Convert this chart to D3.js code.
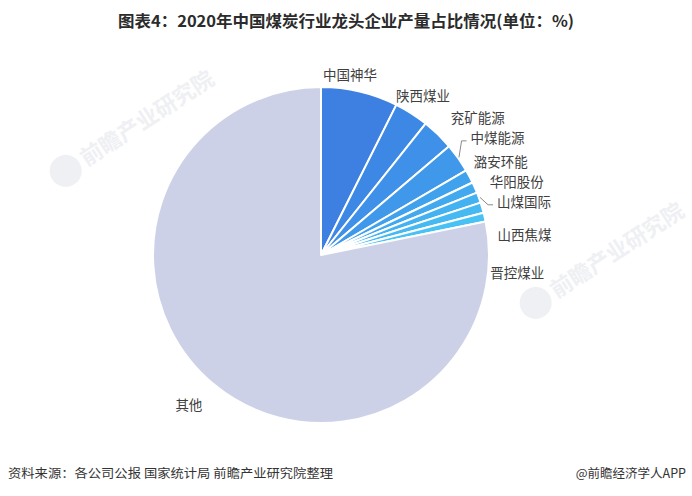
<!DOCTYPE html>
<html>
<head>
<meta charset="utf-8">
<script src="https://cdn.jsdelivr.net/npm/d3@7/dist/d3.min.js"></script>
<style>
  html, body { margin: 0; padding: 0; background: #ffffff; }
  svg { display: block; }
</style>
</head>
<body>
<svg id="chart" width="692" height="496"></svg>
<script>
// ---- data ----
const categories = ["中国神华", "陕西煤业", "兖矿能源", "中煤能源", "潞安环能", "华阳股份", "山煤国际", "山西焦煤", "晋控煤业", "其他"];
const shares = [7.4, 3.3, 3.1, 2.8, 1.3, 1.05, 1.0, 1.0, 0.85, 78.2];
const titleText = "图表4：2020年中国煤炭行业龙头企业产量占比情况(单位：%)";
const sourceText = "资料来源：各公司公报 国家统计局 前瞻产业研究院整理";
const creditText = "@前瞻经济学人APP";

// ---- layout / style ----
const W = 692, H = 496;
const cx = 321, cy = 255, R = 168;
const palette = ["#3d80e2", "#3e88e5", "#3f90e8", "#3f98ea", "#40a1ed", "#42a9ef", "#44b1f1", "#46b9f3", "#48c1f5", "#cdd1e7"];
// label nudges relative to anchor on a circle outside the pie
const labelNudge = [[-13, -3], [-23, -5], [3, -6.5], [1, -12], [-8, -8], [2, 0], [5, 9], [2, 32], [-8, 59], [-17, 9]];
const labelAnchor = ["middle", "start", "start", "start", "start", "start", "start", "start", "start", "middle"];
const leader = [false, false, false, true, false, false, true, false, false, false];

const svg = d3.select("#chart");
const font = "'Noto Sans CJK SC', 'Noto Sans', sans-serif";

// watermarks (very faint, behind the chart)
const wm = [[125, 130, -33], [595, 262, -33]];
const wmG = svg.append("g");
wm.forEach(([x, y, a]) => {
  const g = wmG.append("g").attr("transform", `translate(${x},${y}) rotate(${a})`);
  g.append("circle").attr("cx", -72).attr("cy", 2).attr("r", 16).attr("fill", "#eef0f3");
  g.append("text").attr("x", -52).attr("y", 10).attr("font-family", font).attr("font-weight", "bold")
    .attr("font-size", 22).attr("fill", "#eef0f3").text("前瞻产业研究院");
});

// title
svg.append("text")
  .attr("x", W / 2).attr("y", 27)
  .attr("text-anchor", "middle")
  .attr("font-family", font).attr("font-weight", "bold").attr("font-size", 16)
  .attr("fill", "#2b2b2b")
  .attr("textLength", 456).attr("lengthAdjust", "spacingAndGlyphs")
  .text(titleText);

// pie
const data = categories.map((c, i) => ({ name: c, value: shares[i], i }));
const pie = d3.pie().value(d => d.value).sort(null).startAngle(0).endAngle(2 * Math.PI);
const arcs = pie(data);
const arc = d3.arc().innerRadius(0).outerRadius(R);

const g = svg.append("g").attr("transform", `translate(${cx},${cy})`);
g.selectAll("path.slice").data(arcs).enter().append("path")
  .attr("class", "slice")
  .attr("d", arc)
  .attr("fill", d => palette[d.data.i])
  .attr("stroke", "#ffffff").attr("stroke-width", 2).attr("stroke-linejoin", "round");

// labels
const LR = R + 14;
arcs.forEach(d => {
  const i = d.data.i;
  const m = (d.startAngle + d.endAngle) / 2;
  const ax = LR * Math.sin(m) + labelNudge[i][0];
  const ay = -LR * Math.cos(m) + labelNudge[i][1];
  g.append("text")
    .attr("x", ax).attr("y", ay)
    .attr("dy", "0.35em")
    .attr("text-anchor", labelAnchor[i])
    .attr("font-family", font).attr("font-size", 13.5)
    .attr("fill", "#404040")
    .text(d.data.name);
  if (leader[i]) {
    const sx = (R + 1) * Math.sin(m), sy = -(R + 1) * Math.cos(m);
    const ex = ax - 4, ey = ay + 3;
    g.append("polyline")
      .attr("points", `${sx},${sy} ${ex - 5},${ey} ${ex},${ey}`)
      .attr("fill", "none").attr("stroke", "#8a8a8a").attr("stroke-width", 1);
  }
});

// footer
svg.append("text")
  .attr("x", 8).attr("y", 478)
  .attr("font-family", font).attr("font-size", 12.5)
  .attr("fill", "#333333")
  .attr("textLength", 325).attr("lengthAdjust", "spacingAndGlyphs")
  .text(sourceText);
svg.append("text")
  .attr("x", 686).attr("y", 478)
  .attr("text-anchor", "end")
  .attr("font-family", font).attr("font-size", 12.5)
  .attr("fill", "#333333")
  .text(creditText);
</script>
</body>
</html>
